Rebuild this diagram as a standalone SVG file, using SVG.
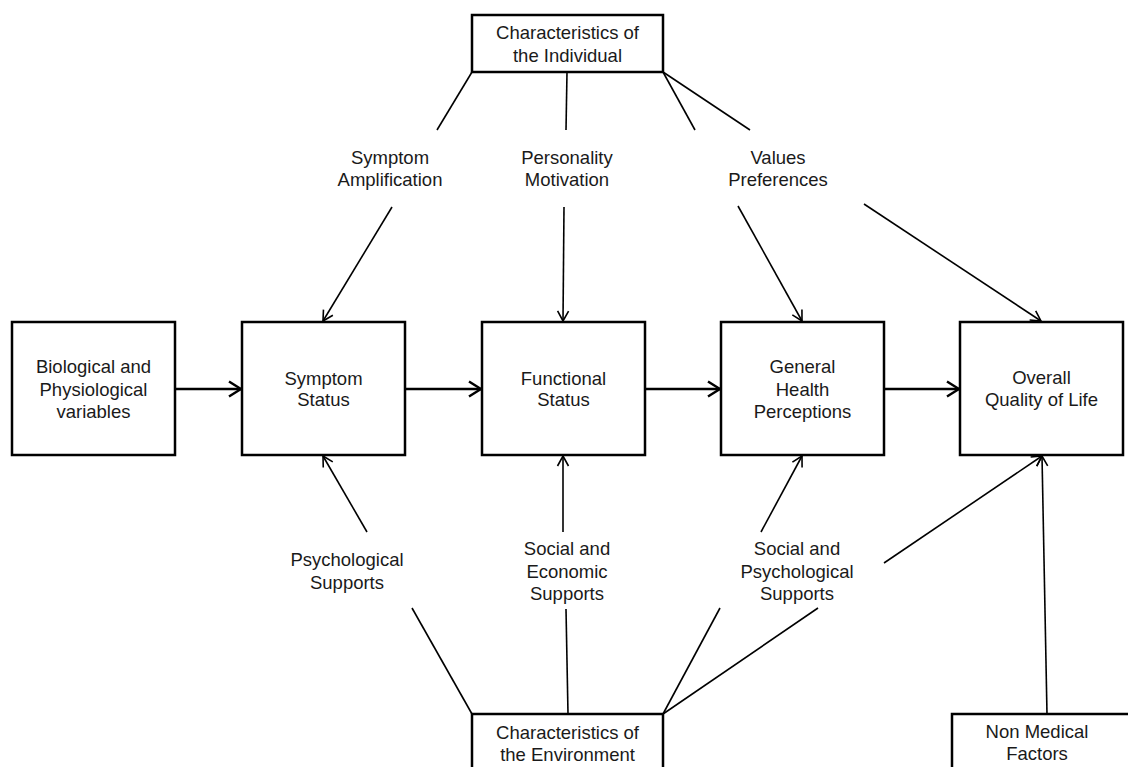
<svg xmlns="http://www.w3.org/2000/svg" width="1128" height="767" viewBox="0 0 1128 767">
  <style>
    .box { fill: #ffffff; stroke: #000000; stroke-width: 2.5; }
    .txt { font-family: "Liberation Sans", Arial, sans-serif; font-size: 18.5px; fill: #1a1a1a; text-anchor: middle; }
    .flow { stroke: #000000; stroke-width: 2.5; fill: none; }
    .link { stroke: #000000; stroke-width: 1.6; fill: none; }
  </style>
  <defs>
    <marker id="arrowBold" markerUnits="userSpaceOnUse" viewBox="0 0 14 18" markerWidth="14" markerHeight="18" refX="13" refY="9" orient="auto">
      <path d="M1,1.5 L13,9 L1,16.5" fill="none" stroke="#000" stroke-width="2.5"/>
    </marker>
    <marker id="arrowThin" markerUnits="userSpaceOnUse" viewBox="0 0 12 14" markerWidth="12" markerHeight="14" refX="11" refY="7" orient="auto">
      <path d="M1,1.5 L11,7 L1,12.5" fill="none" stroke="#000" stroke-width="1.6"/>
    </marker>
  </defs>
  <rect x="0" y="0" width="1128" height="767" fill="#ffffff"/>

  <!-- connectors -->
  <g id="connectors">
    <!-- main chain -->
    <line class="flow" x1="175" y1="389" x2="241" y2="389" marker-end="url(#arrowBold)"/>
    <line class="flow" x1="405" y1="389" x2="481" y2="389" marker-end="url(#arrowBold)"/>
    <line class="flow" x1="645" y1="389" x2="720" y2="389" marker-end="url(#arrowBold)"/>
    <line class="flow" x1="884" y1="389" x2="959" y2="389" marker-end="url(#arrowBold)"/>

    <!-- individual characteristics to labels -->
    <line class="link" x1="472" y1="72" x2="437" y2="130"/>
    <line class="link" x1="567" y1="72" x2="566" y2="130"/>
    <line class="link" x1="663" y1="72" x2="695" y2="130"/>
    <line class="link" x1="663" y1="72" x2="750" y2="130"/>

    <!-- labels to boxes (top) -->
    <line class="link" x1="392" y1="207" x2="323" y2="321" marker-end="url(#arrowThin)"/>
    <line class="link" x1="564" y1="207" x2="563" y2="321" marker-end="url(#arrowThin)"/>
    <line class="link" x1="738" y1="206" x2="802" y2="321" marker-end="url(#arrowThin)"/>
    <line class="link" x1="864" y1="204" x2="1041" y2="321" marker-end="url(#arrowThin)"/>

    <!-- labels to boxes (bottom) -->
    <line class="link" x1="367" y1="532" x2="323" y2="456" marker-end="url(#arrowThin)"/>
    <line class="link" x1="563" y1="532" x2="563" y2="456" marker-end="url(#arrowThin)"/>
    <line class="link" x1="761" y1="532" x2="802" y2="456" marker-end="url(#arrowThin)"/>
    <line class="link" x1="884" y1="563" x2="1042" y2="456" marker-end="url(#arrowThin)"/>
    <line class="link" x1="1047" y1="714" x2="1042" y2="456" marker-end="url(#arrowThin)"/>

    <!-- environment characteristics to labels -->
    <line class="link" x1="472" y1="714" x2="412" y2="608"/>
    <line class="link" x1="568" y1="714" x2="566" y2="609"/>
    <line class="link" x1="663" y1="714" x2="720" y2="608"/>
    <line class="link" x1="663" y1="714" x2="818" y2="608"/>
  </g>

  <g id="individual">
    <rect class="box" x="472" y="15" width="191" height="57"/>
    <text class="txt" x="567.5" y="38.5">Characteristics of</text>
    <text class="txt" x="567.5" y="61.5">the Individual</text>
  </g>

  <g id="biological">
    <rect class="box" x="12" y="322" width="163" height="133"/>
    <text class="txt" x="93.5" y="372.5">Biological and</text>
    <text class="txt" x="93.5" y="395.5">Physiological</text>
    <text class="txt" x="93.5" y="417.5">variables</text>
  </g>

  <g id="symptom-status">
    <rect class="box" x="242" y="322" width="163" height="133"/>
    <text class="txt" x="323.5" y="384.5">Symptom</text>
    <text class="txt" x="323.5" y="405.5">Status</text>
  </g>

  <g id="functional-status">
    <rect class="box" x="482" y="322" width="163" height="133"/>
    <text class="txt" x="563.5" y="384.5">Functional</text>
    <text class="txt" x="563.5" y="405.5">Status</text>
  </g>

  <g id="health-perceptions">
    <rect class="box" x="721" y="322" width="163" height="133"/>
    <text class="txt" x="802.5" y="372.5">General</text>
    <text class="txt" x="802.5" y="395.5">Health</text>
    <text class="txt" x="802.5" y="417.5">Perceptions</text>
  </g>

  <g id="quality-of-life">
    <rect class="box" x="960" y="322" width="163" height="133"/>
    <text class="txt" x="1041.5" y="383.5">Overall</text>
    <text class="txt" x="1041.5" y="405.5">Quality of Life</text>
  </g>

  <g id="environment">
    <rect class="box" x="472" y="714" width="191" height="70"/>
    <text class="txt" x="567.5" y="738.5">Characteristics of</text>
    <text class="txt" x="567.5" y="760.5">the Environment</text>
  </g>

  <g id="non-medical">
    <rect class="box" x="952" y="714" width="190" height="70"/>
    <text class="txt" x="1037" y="737.5">Non Medical</text>
    <text class="txt" x="1037" y="759.5">Factors</text>
  </g>

  <g id="symptom-amplification">
    <text class="txt" x="390" y="163.5">Symptom</text>
    <text class="txt" x="390" y="185.5">Amplification</text>
  </g>

  <g id="personality-motivation">
    <text class="txt" x="567" y="163.5">Personality</text>
    <text class="txt" x="567" y="185.5">Motivation</text>
  </g>

  <g id="values-preferences">
    <text class="txt" x="778" y="163.5">Values</text>
    <text class="txt" x="778" y="185.5">Preferences</text>
  </g>

  <g id="psychological-supports">
    <text class="txt" x="347" y="565.5">Psychological</text>
    <text class="txt" x="347" y="588.5">Supports</text>
  </g>

  <g id="social-economic-supports">
    <text class="txt" x="567" y="554.5">Social and</text>
    <text class="txt" x="567" y="577.5">Economic</text>
    <text class="txt" x="567" y="599.5">Supports</text>
  </g>

  <g id="social-psychological-supports">
    <text class="txt" x="797" y="554.5">Social and</text>
    <text class="txt" x="797" y="577.5">Psychological</text>
    <text class="txt" x="797" y="599.5">Supports</text>
  </g>
</svg>
